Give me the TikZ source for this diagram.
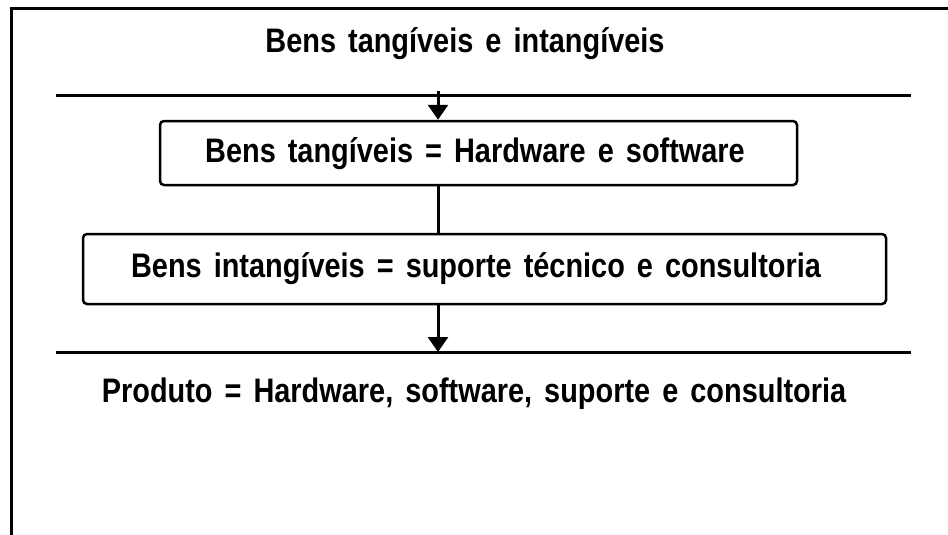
\documentclass[tikz,border=0pt]{standalone}
\usepackage{fontspec}
\setmainfont{Liberation Sans}[FakeStretch=0.85, WordSpace=1.5]
\usepackage{tikz}
\usetikzlibrary{calc}
\usetikzlibrary{arrows.meta}
\usetikzlibrary{positioning}

\begin{document}
\begin{tikzpicture}[x=1pt, y=-1pt,
        caixa/.style={draw, line width=2.5pt, rounded corners=4pt, inner sep=0pt},
        rotulo/.style={font=\fontsize{34}{40}\selectfont\bfseries, anchor=base},
        seta/.style={line width=3pt, -{Triangle[width=20pt, length=15pt]}}]
            % Page & frame
            \useasboundingbox                                     (0, 0) rectangle (948, 535);
            \draw[line width=3pt]                                 (948, 9) -- (11, 9) -- (11, 535);
            % Title
            \node[rotulo] (titulo)                                at (465, 53) {Bens tangíveis e intangíveis};
            % Reference lines
            \coordinate (col)   at (438,  0);
            \coordinate (l1w)   at ( 56, 95);
            \coordinate (l1e)   at (911, 95);
            \coordinate (l2w)   at ( 56, 352);
            \coordinate (l2e)   at (911, 352);
            \draw[line width=3pt]                                 (l1w) -- (l1e);
            \draw[line width=3pt]                                 (l2w) -- (l2e);
            % Boxes
            \node[caixa, minimum width=637pt, minimum height=64pt] (tangiveis)
                 at (478.5, 153) {};
            \node[rotulo]                                         at (475, 162) {Bens tangíveis = Hardware e software};
            \node[caixa, minimum width=803pt, minimum height=70pt] (intangiveis)
                 at (484.5, 269) {};
            \node[rotulo]                                         at (476, 277) {Bens intangíveis = suporte técnico e consultoria};
            % Connectors
            \draw[seta]            ([yshift=4pt] l1w -| col) -- (tangiveis.north -| col);
            \draw[line width=3pt]  (tangiveis.south -| col)  -- (intangiveis.north -| col);
            \draw[seta]            (intangiveis.south -| col) -- (l2w -| col);
            % Result
            \node[rotulo] (produto)                               at (474, 402) {Produto = Hardware, software, suporte e consultoria};
        \end{tikzpicture}
\end{document}
